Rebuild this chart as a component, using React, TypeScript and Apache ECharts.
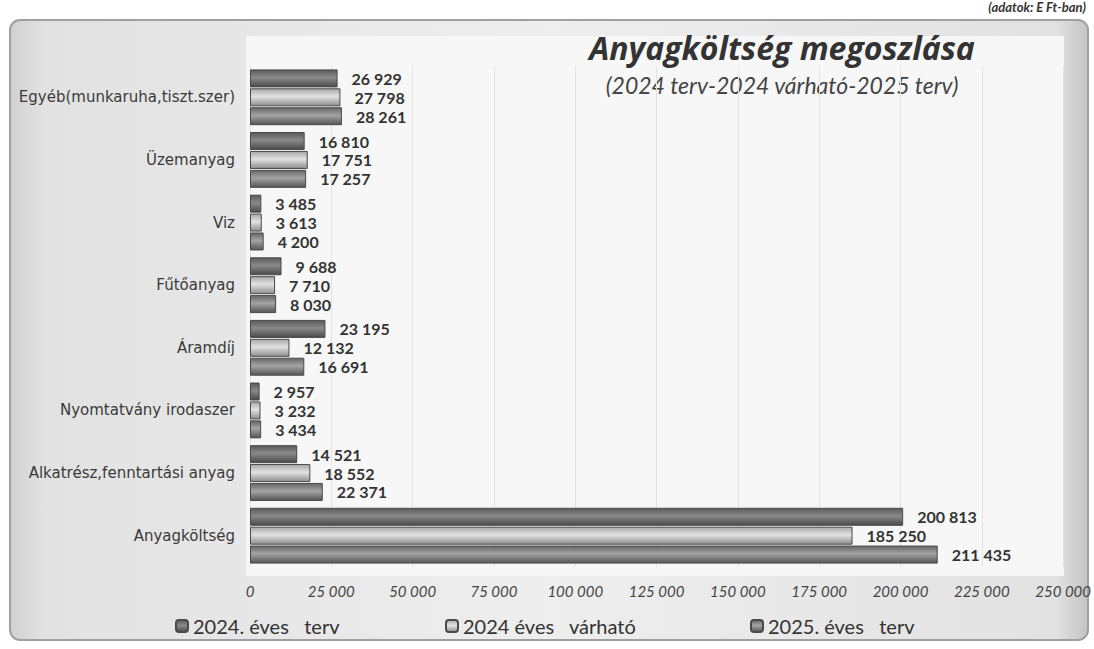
import React, { useEffect, useRef } from "react";
import * as echarts from "echarts";

const categories = [
  "Egyéb(munkaruha,tiszt.szer)",
  "Üzemanyag",
  "Viz",
  "Fűtőanyag",
  "Áramdíj",
  "Nyomtatvány irodaszer",
  "Alkatrész,fenntartási anyag",
  "Anyagköltség",
];
const seriesNames = ["2024. éves   terv", "2024 éves   várható", "2025. éves   terv"];
const plan2024 = [26929, 16810, 3485, 9688, 23195, 2957, 14521, 200813];
const expected2024 = [27798, 17751, 3613, 7710, 12132, 3232, 18552, 185250];
const plan2025 = [28261, 17257, 4200, 8030, 16691, 3434, 22371, 211435];
const xTicks = { min: 0, max: 250000, interval: 25000 };

const fmt = (v: number) => String(v).replace(/\B(?=(\d{3})+(?!\d))/g, " ");

const grad = (top: string, mid: string, bot: string) =>
  new echarts.graphic.LinearGradient(0, 0, 0, 1, [
    { offset: 0, color: top },
    { offset: 0.45, color: mid },
    { offset: 1, color: bot },
  ]);

export default function App() {
  const ref = useRef<HTMLDivElement>(null);
  useEffect(() => {
    const chart = echarts.init(ref.current!, null, { renderer: "svg" });
    const colors = [
      grad("#5a5a5a", "#8a8a8a", "#4a4a4a"),
      grad("#a8a8a8", "#e2e2e2", "#8e8e8e"),
      grad("#666666", "#a4a4a4", "#555555"),
    ];
    const legendColors = ["#6e6e6e", "#b8b8b8", "#8a8a8a"];
    const datasets = [plan2024, expected2024, plan2025];
    const labelStyle = {
      show: true,
      position: "right" as const,
      distance: 14,
      fontFamily: "Lato",
      fontWeight: "bold" as const,
      fontSize: 16,
      color: "#333",
      formatter: (p: any) => fmt(p.value),
    };
    chart.setOption({
      animation: false,
      backgroundColor: "#ffffff",
      graphic: [
        {
          type: "rect",
          shape: { x: 10, y: 20, width: 1078, height: 620, r: 10 },
          style: {
            fill: new echarts.graphic.LinearGradient(0, 0, 1, 0, [
              { offset: 0, color: "#d0d0d0" },
              { offset: 0.03, color: "#e2e2e2" },
              { offset: 0.5, color: "#eeeeee" },
              { offset: 0.97, color: "#e2e2e2" },
              { offset: 1, color: "#c4c4c4" },
            ]),
            stroke: "#a0a0a0",
            lineWidth: 2,
          },
          z: -10,
        },
        {
          type: "rect",
          shape: { x: 246, y: 36, width: 818, height: 540 },
          style: { fill: "#f7f7f7" },
          z: -9,
        },
        {
          type: "text",
          right: 8,
          top: 0,
          style: {
            text: "(adatok: E Ft-ban)",
            font: "italic bold 13px Lato",
            fill: "#333",
          },
        },
        {
          type: "text",
          x: 782,
          y: 47,
          style: {
            text: "Anyagköltség megoszlása",
            font: "italic bold 32px 'Open Sans'",
            fill: "#333",
            align: "center",
            verticalAlign: "middle",
          },
        },
        {
          type: "text",
          x: 782,
          y: 85,
          style: {
            text: "(2024 terv-2024 várható-2025 terv)",
            font: "italic 23px Lato",
            fill: "#444",
            align: "center",
            verticalAlign: "middle",
          },
        },
      ],
      legend: seriesNames.map((n, i) => ({
        data: [n],
        left: [170, 440, 745][i],
        top: 611,
        itemWidth: 12,
        itemHeight: 12,
        itemGap: 4,
        textStyle: { fontFamily: "Lato", fontSize: 20, color: "#333" },
      })),
      grid: { left: 250, right: 30, top: 66, bottom: 82 },
      xAxis: {
        type: "value",
        min: xTicks.min,
        max: xTicks.max,
        interval: xTicks.interval,
        axisLine: { show: false },
        axisTick: { show: false },
        splitLine: { show: true, lineStyle: { color: "#e2e2e2", width: 1 } },
        axisLabel: {
          margin: 16,
          fontFamily: "Lato",
          fontStyle: "italic",
          fontSize: 15,
          color: "#444",
          formatter: (v: number) => fmt(v),
        },
      },
      yAxis: {
        type: "category",
        data: categories,
        inverse: true,
        axisLine: { show: false },
        axisTick: { show: false },
        axisLabel: {
          margin: 15,
          fontFamily: "DejaVu Sans",
          fontSize: 15,
          color: "#3a3a3a",
        },
      },
      series: datasets.map((d, i) => ({
        name: seriesNames[i],
        type: "bar",
        data: d,
        barWidth: 18,
        barGap: "5%",
        itemStyle: {
          color: colors[i],
          borderColor: "#4a4a4a",
          borderWidth: 1,
        },
        label: labelStyle,
        color: legendColors[i],
      })),
    });
    return () => chart.dispose();
  }, []);
  return (
    <div
      ref={ref}
      style={{ position: "absolute", left: 0, top: 0, width: 1094, height: 649 }}
    />
  );
}
